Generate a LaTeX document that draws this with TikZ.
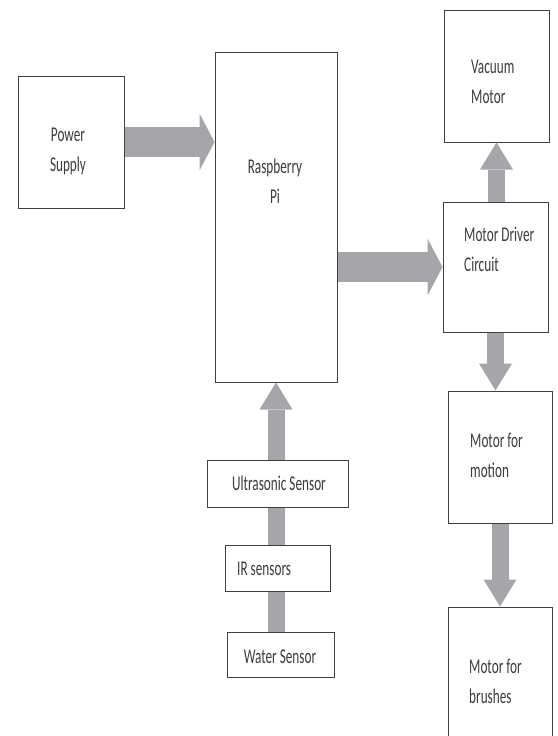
\documentclass[tikz,border=0pt]{standalone}
\usepackage{fontspec}
\setmainfont{Carlito}[FakeStretch=0.63]
\usepackage{tikz}
\usetikzlibrary{arrows.meta}
\definecolor{arrowgray}{RGB}{166,166,170}
\definecolor{textgray}{RGB}{60,60,60}
\tikzset{box/.style={draw=black!75, line width=1pt, fill=white, rectangle, inner sep=0pt}}
\tikzset{txt/.style={text=textgray, inner sep=0pt, font=\fontsize{21}{30}\selectfont}}
\tikzset{harrow/.style={draw=arrowgray, line width=30pt,
  -{Triangle[length=15pt 0 0, width=57pt 0 0, line width=0pt]}}}
\tikzset{varrow/.style={draw=arrowgray, line width=17pt,
  -{Triangle[length=27pt 0 0, width=33pt 0 0, line width=0pt]}}}
\tikzset{vshaft/.style={draw=arrowgray, line width=17pt}}

\begin{document}
\begin{tikzpicture}[x=1pt, y=-1pt]
\useasboundingbox (0,0) rectangle (557,736);

% blocks
\node[box, minimum width=106pt, minimum height=132pt] (ps) at (71,142) {};
\node[box, minimum width=122pt, minimum height=330pt] (pi) at (276,217) {};
\node[box, minimum width=105pt, minimum height=132pt] (vm) at (496.5,76) {};
\node[box, minimum width=105pt, minimum height=130pt] (mdc) at (495.5,267) {};
\node[box, minimum width=104pt, minimum height=132pt] (mfm) at (500,457) {};
\node[box, minimum width=104pt, minimum height=132pt] (mfb) at (500,673) {};

% sensors
\node[box, minimum width=141pt, minimum height=47pt] (us) at (277.5,483.5) {};
\node[box, minimum width=105pt, minimum height=46pt] (ir) at (277.5,568) {};
\node[box, minimum width=107pt, minimum height=45pt] (ws) at (280.5,654.5) {};

% labels
\node[txt, align=center] (psl) at (68,151) {Power\\Supply};
\node[txt, align=center] (pil) at (275,181) {Raspberry\\Pi};
\node[txt, align=left, anchor=west] (vml) at (471,82) {Vacuum\\Motor};
\node[txt, align=left, anchor=west] (mdcl) at (464,249) {Motor Driver\\Circuit};
\node[txt, align=left, anchor=west] (mfml) at (470,455) {Motor for\\motion};
\node[txt, align=left, anchor=west] (mfbl) at (469,681) {Motor for\\brushes};
\node[txt] (usl) at (279,483) {Ultrasonic Sensor};
\node[txt, anchor=west] (irl) at (237,569) {IR sensors};
\node[txt] (wsl) at (280,657) {Water Sensor};

% arrows
\draw[harrow] (ps.east) -- (ps.east -| pi.west);
\draw[harrow] (pi.east |- mdc.west) -- (mdc.west);
\draw[varrow] (vm.south |- mdc.north) -- (vm.south);
\draw[varrow] (mdc.south) -- (mdc.south |- mfm.north);
\draw[varrow] (mfm.south) -- (mfb.north);
\draw[vshaft] (pi.south |- ws.north) -- (pi.south |- ir.south);
\draw[vshaft] (pi.south |- ir.north) -- (pi.south |- us.south);
\draw[varrow] (pi.south |- us.north) -- (pi.south);

\end{tikzpicture}
\end{document}
